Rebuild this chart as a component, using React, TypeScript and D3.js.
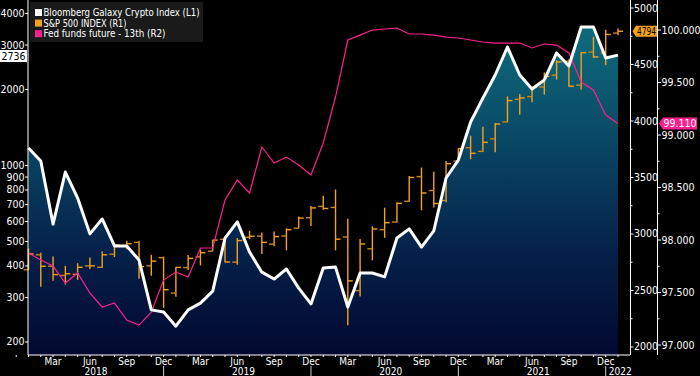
import React from 'react';
import * as d3 from 'd3';

const W = 700;
const H = 376;

// Monthly points, Jan 2018 .. Jan 2022 (index 0..48)
const cryptoIndex = [1173, 1042, 586, 942, 743, 536, 614, 480, 480, 422, 268, 263, 231, 268, 285, 318, 516, 598, 454, 378, 355, 389, 327, 283, 393, 396, 275, 375, 375, 362, 516, 561, 475, 551, 892, 1051, 1487, 1849, 2282, 2944, 2282, 2010, 2182, 2790, 2479, 3538, 3538, 2667, 2736];

const spxOpen = [2683, 2816, 2715, 2633, 2643, 2718, 2705, 2821, 2897, 2926, 2718, 2790, 2477, 2703, 2798, 2848, 2953, 2751, 2971, 2981, 2910, 2983, 3051, 3144, 3244, 3235, 2974, 2499, 2869, 3038, 3106, 3289, 3508, 3385, 3296, 3645, 3764, 3731, 3842, 3992, 4192, 4216, 4301, 4406, 4528, 4317, 4610, 4602, 4778];
const spxHigh = [2872, 2835, 2801, 2718, 2742, 2791, 2848, 2916, 2941, 2940, 2815, 2800, 2708, 2813, 2860, 2949, 2954, 2964, 3028, 3014, 3022, 3050, 3154, 3248, 3338, 3394, 3136, 2955, 3068, 3233, 3280, 3514, 3588, 3550, 3646, 3760, 3870, 3950, 3983, 4218, 4238, 4302, 4430, 4538, 4546, 4608, 4744, 4808, 4818];
const spxLow = [2682, 2533, 2586, 2553, 2594, 2691, 2698, 2796, 2864, 2604, 2631, 2347, 2444, 2681, 2722, 2848, 2750, 2728, 2953, 2822, 2892, 2856, 3051, 3070, 3214, 2855, 2192, 2447, 2767, 2966, 3102, 3285, 3210, 3234, 3280, 3633, 3662, 3725, 3723, 3990, 4056, 4165, 4233, 4367, 4306, 4279, 4560, 4495, 4758];
const spxClose = [2824, 2714, 2641, 2648, 2705, 2718, 2816, 2902, 2914, 2712, 2760, 2507, 2704, 2784, 2834, 2946, 2752, 2942, 2980, 2926, 2977, 3038, 3141, 3231, 3226, 2954, 2585, 2912, 3044, 3100, 3271, 3500, 3363, 3270, 3622, 3756, 3714, 3811, 3973, 4181, 4204, 4298, 4395, 4523, 4308, 4605, 4567, 4766, 4794];

const fedFunds = [97.876, 97.81, 97.752, 97.59, 97.686, 97.495, 97.362, 97.4, 97.238, 97.19, 97.314, 97.619, 97.695, 97.648, 97.924, 97.924, 98.381, 98.571, 98.448, 98.886, 98.733, 98.79, 98.714, 98.619, 98.924, 99.362, 99.905, 99.952, 100.0, 100.01, 100.019, 99.962, 99.962, 99.952, 99.933, 99.924, 99.905, 99.886, 99.876, 99.876, 99.876, 99.829, 99.867, 99.857, 99.781, 99.505, 99.429, 99.19, 99.11];

const leftTicks = [200, 300, 400, 500, 600, 700, 800, 900, 1000, 2000, 3000, 4000];
const r1Ticks = [2000, 2500, 3000, 3500, 4000, 4500, 5000];
const r1Minor = [2250, 2750, 3250, 3750, 4250, 4750];
const r2Ticks = [97, 97.5, 98, 98.5, 99, 99.5, 100];
const r2Minor = [97.25, 97.75, 98.25, 98.75, 99.25, 99.75];
const monthNames = ['Jan', 'Feb', 'Mar', 'Apr', 'May', 'Jun', 'Jul', 'Aug', 'Sep', 'Oct', 'Nov', 'Dec'];
const quarterMonths = [2, 5, 8, 11];
const years = ['2018', '2019', '2020', '2021', '2022'];

const legendItems = [
  { label: 'Bloomberg Galaxy Crypto Index (L1)', color: '#ffffff', len: 156 },
  { label: 'S&P 500 INDEX (R1)', color: '#f5a21b', len: 83 },
  { label: 'Fed funds future - 13th (R2)', color: '#ff1f8e', len: 122 },
];

const FONT = "'Liberation Sans Narrow','DejaVu Sans Condensed','Liberation Sans',sans-serif";
const ORANGE = '#f5a21b';
const PINK = '#ff1f8e';

export default function App() {
  const plotLeft = 28;
  const plotBottom = 355;
  const x = d3.scaleLinear().domain([0, 48]).range([28.5, 618]);
  const yL = d3.scaleLog().domain([177.6, 4523]).range([plotBottom, 0]);
  const yR1 = d3.scaleLinear().domain([1929, 5071]).range([plotBottom, 0]);
  const yR2 = d3.scaleLinear().domain([96.905, 100.286]).range([plotBottom, 0]);

  const idx = d3.range(cryptoIndex.length);
  const area = d3.area<number>().x((i) => x(i)).y0(plotBottom).y1((i) => yL(cryptoIndex[i]));
  const line = d3.line<number>().x((i) => x(i)).y((i) => yL(cryptoIndex[i]));
  const fedLine = d3.line<number>().x((i) => x(i)).y((i) => yR2(fedFunds[i]));

  const monthTicks = d3.range(-1, 49);
  const qLabels: { i: number; name: string }[] = [];
  for (let i = 0; i < 49; i++) {
    const m = i % 12;
    if (quarterMonths.includes(m)) qLabels.push({ i, name: monthNames[m] });
  }
  const lastC = cryptoIndex[cryptoIndex.length - 1];
  const lastS = spxClose[spxClose.length - 1];
  const lastF = fedFunds[fedFunds.length - 1];

  return (
    <svg width={W} height={H} style={{ position: 'absolute', left: 0, top: 0, background: '#000' }} fontFamily={FONT}>
      <defs>
        <linearGradient id="ag" gradientUnits="userSpaceOnUse" x1="0" y1="0" x2="0" y2={plotBottom}>
          <stop offset="0" stopColor="#0f7482" />
          <stop offset="0.35" stopColor="#0a4d68" />
          <stop offset="0.7" stopColor="#05224a" />
          <stop offset="1" stopColor="#020830" />
        </linearGradient>
      </defs>
      <rect x={0} y={0} width={W} height={H} fill="#000" />
      <path d={area(idx) || ''} fill="url(#ag)" />
      {/* S&P OHLC bars */}
      <g stroke={ORANGE} strokeWidth={1.4}>
        {idx.map((i) => (
          <g key={i}>
            <line x1={x(i)} x2={x(i)} y1={yR1(spxHigh[i])} y2={yR1(spxLow[i])} />
            <line x1={x(i) - 5} x2={x(i)} y1={yR1(spxOpen[i])} y2={yR1(spxOpen[i])} stroke="#c9861c" />
            <line x1={x(i)} x2={x(i) + 5} y1={yR1(spxClose[i])} y2={yR1(spxClose[i])} />
          </g>
        ))}
      </g>
      <path d={fedLine(idx) || ''} fill="none" stroke={PINK} strokeWidth={1.2} />
      <path d={line(idx) || ''} fill="none" stroke="#fff" strokeWidth={3} strokeLinejoin="round" />

      {/* Left axis */}
      <line x1={plotLeft} x2={plotLeft} y1={0} y2={plotBottom} stroke="#fff" />
      {leftTicks.map((t) => (
        <g key={t}>
          <line x1={plotLeft - 3} x2={plotLeft} y1={yL(t)} y2={yL(t)} stroke="#fff" />
          <text x={plotLeft - 3.5} y={yL(t) + 3.5} fill="#fff" fontSize={10.5} textAnchor="end">{t}</text>
        </g>
      ))}
      <rect x={0} y={50} width={27} height={12} fill="#fff" />
      <text x={13.5} y={59.5} fill="#000" fontSize={10.5} textAnchor="middle">{Math.round(lastC)}</text>

      {/* Bottom axis */}
      <line x1={plotLeft} x2={630} y1={plotBottom} y2={plotBottom} stroke="#fff" />
      {monthTicks.map((i) => (
        <line key={i} x1={x(i)} x2={x(i)} y1={plotBottom} y2={plotBottom + 2} stroke="#fff" />
      ))}
      {qLabels.map((q) => (
        <text key={q.i} x={x(q.i)} y={365} fill="#fff" fontSize={10} textAnchor="middle">{q.name}</text>
      ))}
      {years.slice(0, 4).map((yr, k) => (
        <g key={yr}>
          <text x={x(5.5 + 12 * k)} y={375} fill="#fff" fontSize={10} textAnchor="middle">{yr}</text>
          <line x1={x(11 + 12 * k)} x2={x(11 + 12 * k)} y1={366} y2={376} stroke="#fff" strokeWidth={0.8} />
        </g>
      ))}
      <text x={x(47) + 3} y={375} fill="#fff" fontSize={10} textAnchor="start">{years[4]}</text>

      {/* Right axis R1 */}
      <line x1={630.5} x2={630.5} y1={0} y2={plotBottom} stroke="#fff" />
      {r1Minor.map((t) => (
        <line key={t} x1={630.5} x2={632.5} y1={yR1(t)} y2={yR1(t)} stroke="#fff" />
      ))}
      {r1Ticks.map((t) => (
        <g key={t}>
          <line x1={630.5} x2={633.5} y1={yR1(t)} y2={yR1(t)} stroke="#fff" />
          <text x={634} y={yR1(t) + 3.5} fill="#fff" fontSize={10.5}>{t}</text>
        </g>
      ))}
      {/* Right axis R2 */}
      <line x1={657.5} x2={657.5} y1={0} y2={plotBottom} stroke="#fff" />
      {r2Minor.map((t) => (
        <line key={t} x1={657.5} x2={659.5} y1={yR2(t)} y2={yR2(t)} stroke="#fff" />
      ))}
      {r2Ticks.map((t) => (
        <g key={t}>
          <line x1={657.5} x2={661} y1={yR2(t)} y2={yR2(t)} stroke="#fff" />
          <text x={661.5} y={yR2(t) + 3.5} fill="#fff" fontSize={10.5}>{t.toFixed(3)}</text>
        </g>
      ))}

      {/* Last value labels */}
      <path d={`M632.5,${yR1(lastS)} L636,${yR1(lastS) - 5.5} L657,${yR1(lastS) - 5.5} L657,${yR1(lastS) + 5.5} L636,${yR1(lastS) + 5.5} Z`} fill={ORANGE} />
      <text x={637} y={yR1(lastS) + 3.6} fill="#000" fontSize={10} textLength={19} lengthAdjust="spacingAndGlyphs">{lastS}</text>
      <path d={`M659,${yR2(lastF)} L663,${yR2(lastF) - 6} L697,${yR2(lastF) - 6} L697,${yR2(lastF) + 6} L663,${yR2(lastF) + 6} Z`} fill={PINK} />
      <text x={680} y={yR2(lastF) + 3.8} fill="#fff" fontSize={10.5} textAnchor="middle">{lastF.toFixed(3)}</text>

      {/* Legend */}
      <rect x={30} y={2} width={173} height={40} fill="#1a1a1a" />
      {legendItems.map((it, k) => (
        <g key={it.label}>
          <rect x={35} y={9 + k * 10.6} width={7} height={7} fill={it.color} />
          <text x={43.5} y={16 + k * 10.6} fill="#fff" fontSize={10.5} textLength={it.len} lengthAdjust="spacingAndGlyphs">{it.label}</text>
        </g>
      ))}
    </svg>
  );
}
